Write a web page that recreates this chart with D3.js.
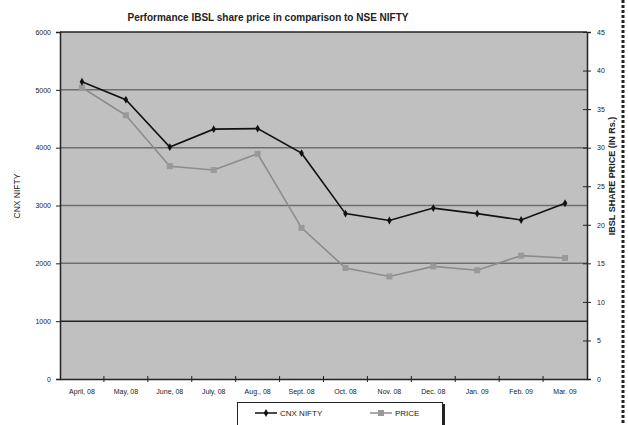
<!DOCTYPE html>
<html>
<head>
<title>IBSL vs NIFTY</title>
<style>
  body { margin: 0; background: #fff; font-family: "Liberation Sans", Arial, sans-serif; }
  svg text { fill: #222; }
  .tick text { font-size: 7px; }
</style>
</head>
<body>
<svg id="chart" width="628" height="425"></svg>
<script src="https://d3js.org/d3.v7.min.js"></script>
<script>
// data
const months = ["April, 08", "May, 08", "June, 08", "July, 08", "Aug., 08", "Sept. 08",
                "Oct. 08", "Nov. 08", "Dec. 08", "Jan. 09", "Feb. 09", "Mar. 09"];
const nifty = [5140, 4830, 4010, 4320, 4330, 3905, 2860, 2740, 2955, 2860, 2750, 3040];
const price = [37.8, 34.2, 27.6, 27.1, 29.2, 19.6, 14.4, 13.3, 14.6, 14.1, 16.0, 15.7];
const niftyTicks = [0, 1000, 2000, 3000, 4000, 5000, 6000];
const priceTicks = [0, 5, 10, 15, 20, 25, 30, 35, 40, 45];

const svg = d3.select("#chart");
const plotL = 60, plotR = 587, plotT = 32, plotB = 379;

const x = d3.scaleBand().domain(months).range([plotL, plotR]);
const yL = d3.scaleLinear().domain([0, 6000]).range([plotB, plotT]);
const yR = d3.scaleLinear().domain([0, 45]).range([plotB, plotT]);

// plot area
svg.append("rect")
  .attr("x", plotL).attr("y", plotT)
  .attr("width", plotR - plotL).attr("height", plotB - plotT)
  .attr("fill", "#c0c0c0");

// gridlines
svg.selectAll(".grid")
  .data(niftyTicks.filter(d => d > 0 && d < 6000))
  .enter().append("line")
  .attr("x1", plotL).attr("x2", plotR)
  .attr("y1", d => yL(d)).attr("y2", d => yL(d))
  .attr("stroke", d => d === 1000 ? "#222" : "#6e6e6e")
  .attr("stroke-width", 1.5);

svg.append("line")
  .attr("x1", plotL).attr("x2", plotR)
  .attr("y1", plotT).attr("y2", plotT)
  .attr("stroke", "#222").attr("stroke-width", 1.5);

// axes
const axL = svg.append("g").attr("transform", `translate(${plotL},0)`)
  .call(d3.axisLeft(yL).tickValues(niftyTicks).tickFormat(d3.format("d")).tickSize(4).tickPadding(5));
const axR = svg.append("g").attr("transform", `translate(${plotR},0)`)
  .call(d3.axisRight(yR).tickValues(priceTicks).tickSize(4).tickPadding(6));
axR.selectAll(".tick line").attr("x1", -4);

const axB = svg.append("g").attr("transform", `translate(0,${plotB})`)
  .call(d3.axisBottom(x).tickSize(0).tickPadding(10));
axB.selectAll(".tick text").attr("font-size", "6.5px");

// category boundary ticks
svg.selectAll(".xtick")
  .data(months.slice(1))
  .enter().append("line")
  .attr("x1", d => x(d)).attr("x2", d => x(d))
  .attr("y1", plotB - 3).attr("y2", plotB + 3)
  .attr("stroke", "#222");

[axL, axR, axB].forEach(a => {
  a.selectAll(".domain").attr("stroke", "#222").attr("stroke-width", 1.5);
  a.selectAll(".tick line").attr("stroke", "#222");
  a.selectAll("text").attr("font-family", "Liberation Sans, Arial, sans-serif").attr("fill", "#333");
});

const cx = d => x(d) + x.bandwidth() / 2;

// price series
svg.append("path")
  .datum(price)
  .attr("fill", "none").attr("stroke", "#8c8c8c").attr("stroke-width", 1.6)
  .attr("d", d3.line().x((d, i) => cx(months[i])).y(d => yR(d)));
svg.selectAll(".pm")
  .data(price)
  .enter().append("rect")
  .attr("x", (d, i) => cx(months[i]) - 3).attr("y", d => yR(d) - 3)
  .attr("width", 6).attr("height", 6)
  .attr("fill", "#999");

// nifty series
svg.append("path")
  .datum(nifty)
  .attr("fill", "none").attr("stroke", "#111").attr("stroke-width", 1.6)
  .attr("d", d3.line().x((d, i) => cx(months[i])).y(d => yL(d)));
svg.selectAll(".nm")
  .data(nifty)
  .enter().append("path")
  .attr("transform", (d, i) => `translate(${cx(months[i])},${yL(d)})`)
  .attr("d", d3.symbol().type(d3.symbolDiamond).size(18))
  .attr("fill", "#111");

// titles
svg.append("text")
  .attr("x", 268).attr("y", 21)
  .attr("text-anchor", "middle")
  .attr("font-size", "10px").attr("font-weight", "bold")
  .text("Performance IBSL share price in comparison to NSE NIFTY");

svg.append("text")
  .attr("transform", "translate(20,196) rotate(-90)")
  .attr("text-anchor", "middle")
  .attr("font-size", "8.5px")
  .text("CNX NIFTY");

svg.append("text")
  .attr("transform", "translate(615,176) rotate(-90)")
  .attr("text-anchor", "middle")
  .attr("font-size", "9px").attr("font-weight", "bold")
  .text("IBSL SHARE PRICE (IN Rs.)");

// page edge on the right
svg.append("line")
  .attr("x1", 623).attr("x2", 623).attr("y1", 0).attr("y2", 425)
  .attr("stroke", "#222").attr("stroke-width", 3)
  .attr("stroke-dasharray", "3,2");

// legend
const lg = svg.append("g");
lg.append("rect")
  .attr("x", 237.5).attr("y", 402.5).attr("width", 205).attr("height", 30)
  .attr("fill", "none").attr("stroke", "#222").attr("stroke-width", 1);
lg.append("line")
  .attr("x1", 444).attr("x2", 444).attr("y1", 404).attr("y2", 425)
  .attr("stroke", "#222").attr("stroke-width", 2);

const items = [
  { name: "CNX NIFTY", color: "#111", x: 255 },
  { name: "PRICE", color: "#8c8c8c", x: 370 }
];
items.forEach(it => {
  lg.append("line")
    .attr("x1", it.x).attr("x2", it.x + 22).attr("y1", 413).attr("y2", 413)
    .attr("stroke", it.color).attr("stroke-width", 1.5);
  lg.append("text")
    .attr("x", it.x + 25).attr("y", 416)
    .attr("font-size", "8px")
    .text(it.name);
});
lg.append("path")
  .attr("transform", "translate(266,413)")
  .attr("d", d3.symbol().type(d3.symbolDiamond).size(18))
  .attr("fill", "#111");
lg.append("rect")
  .attr("x", 378).attr("y", 410).attr("width", 6).attr("height", 6)
  .attr("fill", "#999");
</script>
</body>
</html>
